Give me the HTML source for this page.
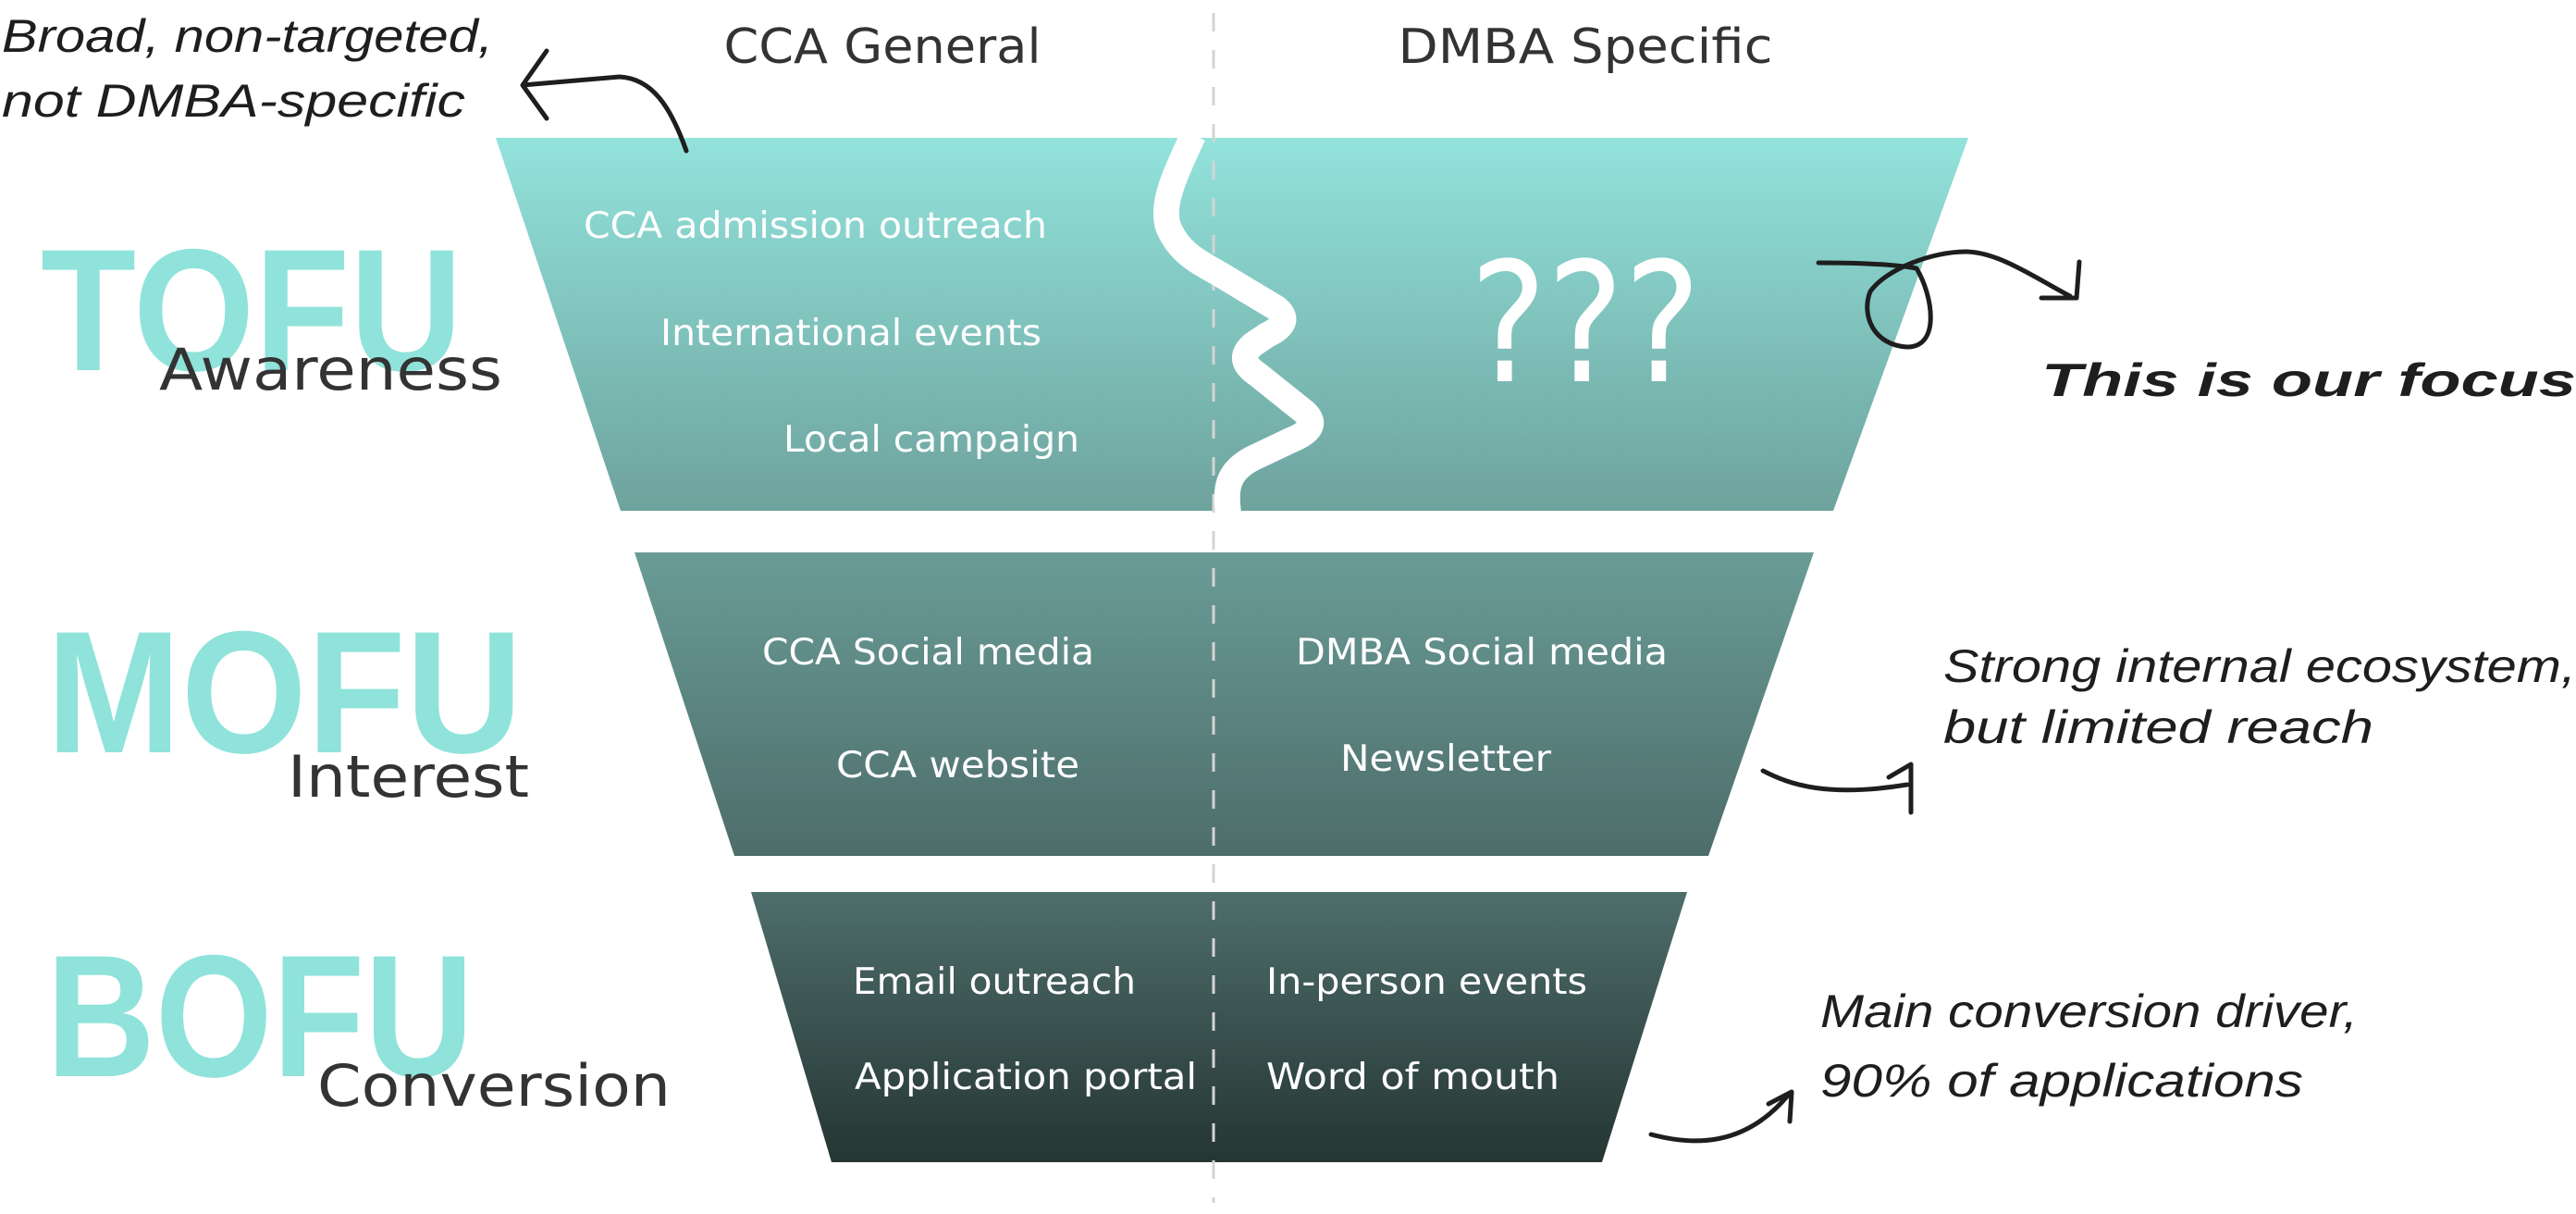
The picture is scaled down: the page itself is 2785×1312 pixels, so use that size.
<!DOCTYPE html>
<html><head><meta charset="utf-8"><style>
html,body{margin:0;padding:0;background:#fff}
svg{display:block}
.it{font-family:"DejaVu Sans","Liberation Sans",sans-serif;fill:#fff;font-size:39px}
.big{font-family:"Liberation Sans",sans-serif;font-weight:bold;fill:#8fe3da;font-size:188px}
.lab{font-family:"DejaVu Sans","Liberation Sans",sans-serif;fill:#333;font-size:62px}
.hd{font-family:"DejaVu Sans","Liberation Sans",sans-serif;fill:#333;font-size:52px}
.hand{font-family:"Liberation Sans",sans-serif;font-style:italic;fill:#1e1e1e;font-size:50px}
.ar{fill:none;stroke:#1e1e1e;stroke-width:5;stroke-linecap:round;stroke-linejoin:round}
</style></head><body>
<svg width="2785" height="1312" viewBox="0 0 2785 1312" xmlns="http://www.w3.org/2000/svg">
<defs>
<linearGradient id="g1" x1="0" y1="0" x2="0" y2="1"><stop offset="0" stop-color="#92e3dc"/><stop offset="1" stop-color="#6ea29d"/></linearGradient>
<linearGradient id="g2" x1="0" y1="0" x2="0" y2="1"><stop offset="0" stop-color="#6a9c97"/><stop offset="1" stop-color="#4d6d6a"/></linearGradient>
<linearGradient id="g3" x1="0" y1="0" x2="0" y2="1"><stop offset="0" stop-color="#4e6e6b"/><stop offset="1" stop-color="#253533"/></linearGradient>
</defs>
<polygon points="536,149 2128,149 1982,552 671,552" fill="url(#g1)"/>
<polygon points="686,597 1961,597 1847,925 794,925" fill="url(#g2)"/>
<polygon points="812,964 1824,964 1732,1256 899,1256" fill="url(#g3)"/>
<line x1="1312" y1="14" x2="1312" y2="1300" stroke="#d4d4d4" stroke-width="3" stroke-dasharray="20,20"/>
<path d="M1290,146 C1270,190 1255,220 1263,245 C1275,275 1300,285 1320,297 L1380,333 C1395,345 1385,355 1370,362 L1355,372 C1340,385 1345,395 1360,405 L1410,445 C1425,458 1415,468 1395,476 L1355,495 C1325,510 1325,530 1328,555" fill="none" stroke="#fff" stroke-width="28" stroke-linejoin="round"/>
<text class="hd" x="954" y="68" text-anchor="middle" textLength="343" lengthAdjust="spacingAndGlyphs">CCA General</text>
<text class="hd" x="1714" y="68" text-anchor="middle" textLength="405" lengthAdjust="spacingAndGlyphs">DMBA Specific</text>
<text class="it" x="631" y="257" textLength="501" lengthAdjust="spacingAndGlyphs">CCA admission outreach</text>
<text class="it" x="714" y="373" textLength="412" lengthAdjust="spacingAndGlyphs">International events</text>
<text class="it" x="847" y="488" textLength="320" lengthAdjust="spacingAndGlyphs">Local campaign</text>
<text x="1714" y="412" text-anchor="middle" font-family="DejaVu Sans,sans-serif" font-size="180" fill="#fff" textLength="250" lengthAdjust="spacingAndGlyphs">???</text>
<text class="it" x="824" y="718" textLength="359" lengthAdjust="spacingAndGlyphs">CCA Social media</text>
<text class="it" x="904" y="840" textLength="263" lengthAdjust="spacingAndGlyphs">CCA website</text>
<text class="it" x="1401" y="718" textLength="402" lengthAdjust="spacingAndGlyphs">DMBA Social media</text>
<text class="it" x="1449" y="833" textLength="228" lengthAdjust="spacingAndGlyphs">Newsletter</text>
<text class="it" x="922" y="1074" textLength="306" lengthAdjust="spacingAndGlyphs">Email outreach</text>
<text class="it" x="924" y="1177" textLength="370" lengthAdjust="spacingAndGlyphs">Application portal</text>
<text class="it" x="1369" y="1074" textLength="347" lengthAdjust="spacingAndGlyphs">In-person events</text>
<text class="it" x="1369" y="1177" textLength="317" lengthAdjust="spacingAndGlyphs">Word of mouth</text>
<text class="big" x="44" y="400" textLength="456" lengthAdjust="spacingAndGlyphs">TOFU</text>
<text class="lab" x="172" y="421" textLength="371" lengthAdjust="spacingAndGlyphs">Awareness</text>
<text class="big" x="50" y="813" textLength="515" lengthAdjust="spacingAndGlyphs">MOFU</text>
<text class="lab" x="311" y="861" textLength="261" lengthAdjust="spacingAndGlyphs">Interest</text>
<text class="big" x="50" y="1163" textLength="462" lengthAdjust="spacingAndGlyphs">BOFU</text>
<text class="lab" x="343" y="1195" textLength="382" lengthAdjust="spacingAndGlyphs">Conversion</text>
<text class="hand" x="2" y="56" textLength="531" lengthAdjust="spacingAndGlyphs">Broad, non-targeted,</text>
<text class="hand" x="2" y="126" textLength="501" lengthAdjust="spacingAndGlyphs">not DMBA-specific</text>
<text class="hand" x="2207" y="428" font-size="82" font-weight="bold" textLength="578" lengthAdjust="spacingAndGlyphs">This is our focus</text>
<text class="hand" x="2101" y="737" textLength="684" lengthAdjust="spacingAndGlyphs">Strong internal ecosystem,</text>
<text class="hand" x="2101" y="803" textLength="465" lengthAdjust="spacingAndGlyphs">but limited reach</text>
<text class="hand" x="1968" y="1110" textLength="581" lengthAdjust="spacingAndGlyphs">Main conversion driver,</text>
<text class="hand" x="1968" y="1185" textLength="522" lengthAdjust="spacingAndGlyphs">90% of applications</text>
<path class="ar" d="M742,163 C725,115 705,85 670,83 L565,92 M591,55 L565,92 L591,128"/>
<path class="ar" d="M1966,284 C2010,284 2050,286 2072,290 C2090,320 2098,375 2062,375 C2025,373 2012,340 2022,315 C2040,290 2090,272 2125,272 C2160,272 2200,300 2238,320 M2248,283 L2245,322 L2207,322" stroke-width="8"/>
<path class="ar" d="M1906,833 C1935,848 1975,862 2062,848 M2042,840 L2066,826 L2066,878"/>
<path class="ar" d="M1785,1226 C1830,1238 1885,1240 1932,1185 M1912,1193 L1937,1180 L1935,1212"/>
</svg>
</body></html>
